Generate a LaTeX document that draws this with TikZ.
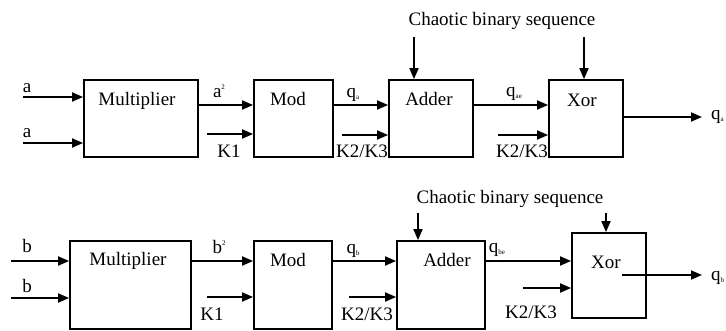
\documentclass[tikz,border=0pt]{standalone}
\usepackage{fontspec}
\setmainfont{Liberation Serif}
\usetikzlibrary{arrows.meta}
\newcommand{\lowidx}[1]{\raisebox{-2.5pt}{\fontsize{7}{7}\selectfont #1}}
\newcommand{\upidx}[1]{\raisebox{8pt}{\fontsize{7}{7}\selectfont #1}}
\begin{document}
\begin{tikzpicture}[x=1pt,y=-1pt,
 blk/.style={draw, line width=1.8pt, inner sep=0pt},
 arr/.style={line width=1.8pt, -{Triangle[length=11pt,width=9pt]}},
 txt/.style={inner sep=0pt, anchor=base, font=\fontsize{19}{22}\selectfont},
]
\useasboundingbox (0,0) rectangle (726,330);
% ---------- top row boxes
\node[blk, minimum width=114pt, minimum height=77pt] (m1) at (141,118.5) {};
\node[blk, minimum width=79pt, minimum height=77pt] (mod1) at (293.5,118.5) {};
\node[blk, minimum width=84pt, minimum height=77pt] (add1) at (431,118.5) {};
\node[blk, minimum width=74pt, minimum height=77pt] (xor1) at (586,118.5) {};
\node[txt] (m1t) at (137,105) {Multiplier};
\node[txt] (mod1t) at (288,105) {Mod};
\node[txt] (add1t) at (429,105) {Adder};
\node[txt] (xor1t) at (582,106) {Xor};
% ---------- bottom row boxes
\node[blk, minimum width=121pt, minimum height=88pt] (m2) at (130.5,285) {};
\node[blk, minimum width=78pt, minimum height=88pt] (mod2) at (293,285) {};
\node[blk, minimum width=88pt, minimum height=88pt] (add2) at (441,285) {};
\node[blk, minimum width=74pt, minimum height=85pt] (xor2) at (609,275.5) {};
\node[txt] (m2t) at (128,265) {Multiplier};
\node[txt] (mod2t) at (288,266) {Mod};
\node[txt] (add2t) at (447,266) {Adder};
\node[txt] (xor2t) at (606,268) {Xor};
% ---------- top labels
\node[txt] (la1) at (27,92) {a};
\node[txt] (la2) at (27,137) {a};
\node[txt] (la3) at (219,97) {a\upidx{2}};
\node[txt] (lk1) at (229,157) {K1};
\node[txt] (lqa) at (353,97) {q\lowidx{a}};
\node[txt] (lk2) at (362,157) {K2/K3};
\node[txt] (lqae) at (514,96) {q\lowidx{ae}};
\node[txt] (lk3) at (522,157) {K2/K3};
\node[txt, anchor=base west] (lqo1) at (711,119) {q\lowidx{a}};
\node[txt] (ch1) at (502,25) {Chaotic binary sequence};
% ---------- bottom labels
\node[txt] (lb1) at (27,252) {b};
\node[txt] (lb2) at (27,292) {b};
\node[txt] (lb3) at (219,253) {b\upidx{2}};
\node[txt] (lk4) at (212,320) {K1};
\node[txt] (lqb) at (353,253) {q\lowidx{b}};
\node[txt] (lk5) at (367,320) {K2/K3};
\node[txt] (lqbe) at (497,252) {q\lowidx{be}};
\node[txt] (lk6) at (531,318) {K2/K3};
\node[txt, anchor=base west] (lqo2) at (711,280) {q\lowidx{b}};
\node[txt] (ch2) at (510,203) {Chaotic binary sequence};
% ---------- top coordinates
\coordinate (ia1) at (23,97);
\coordinate (ia2) at (23,143);
\coordinate (r1) at (0,105);
\coordinate (k1) at (207,134);
\coordinate (k2) at (342,135);
\coordinate (k3) at (498,135);
\coordinate (c1) at (414,37);
\coordinate (c2) at (584,37);
\coordinate (o1s) at (0,117);
\coordinate (o1) at (702,117);
% ---------- bottom coordinates
\coordinate (ib1) at (11,261);
\coordinate (ib2) at (11,298);
\coordinate (r2) at (0,261);
\coordinate (k4) at (207,297);
\coordinate (k5) at (349,297);
\coordinate (k6) at (523,288);
\coordinate (c3) at (418,213);
\coordinate (c4) at (606,213);
\coordinate (o2s) at (622,275);
\coordinate (o2) at (702,275);
% ---------- top connectors
\draw[arr] (ia1) -- (m1.west |- ia1);
\draw[arr] (ia2) -- (m1.west |- ia2);
\draw[arr] (m1.east |- r1) -- (mod1.west |- r1);
\draw[arr] (k1) -- (mod1.west |- k1);
\draw[arr] (mod1.east |- r1) -- (add1.west |- r1);
\draw[arr] (k2) -- (add1.west |- k2);
\draw[arr] (c1) -- (c1 |- add1.north);
\draw[arr] (add1.east |- r1) -- (xor1.west |- r1);
\draw[arr] (k3) -- (xor1.west |- k3);
\draw[arr] (c2) -- (c2 |- xor1.north);
\draw[arr] (xor1.east |- o1s) -- (o1);
% ---------- bottom connectors
\draw[arr] (ib1) -- (m2.west |- ib1);
\draw[arr] (ib2) -- (m2.west |- ib2);
\draw[arr] (m2.east |- r2) -- (mod2.west |- r2);
\draw[arr] (k4) -- (mod2.west |- k4);
\draw[arr] (mod2.east |- r2) -- (add2.west |- r2);
\draw[arr] (k5) -- (add2.west |- k5);
\draw[arr] (c3) -- (c3 |- add2.north);
\draw[arr] (add2.east |- r2) -- (xor2.west |- r2);
\draw[arr] (k6) -- (xor2.west |- k6);
\draw[arr] (c4) -- (c4 |- xor2.north);
\draw[arr] (o2s) -- (o2);
\end{tikzpicture}
\end{document}
